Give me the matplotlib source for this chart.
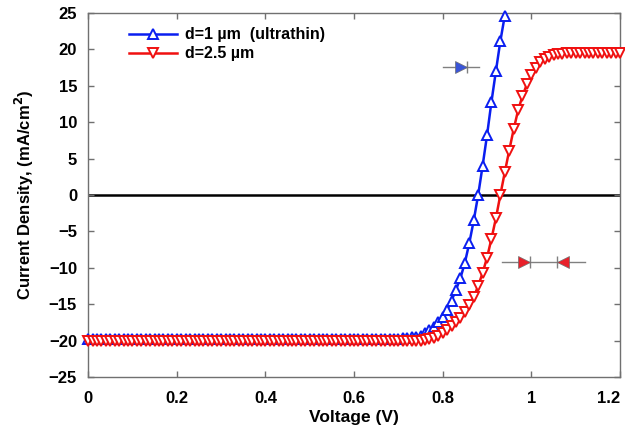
import numpy as np
import matplotlib.pyplot as plt

plt.rcParams['font.family'] = ['Liberation Sans', 'DejaVu Sans']
plt.rcParams['font.weight'] = 'bold'

# J-V curves, 10 mV step
v_thin = np.round(np.arange(0, 95) * 0.01, 2)
j_thin = [-19.8] * 70 + [
    -19.75, -19.7, -19.65, -19.55, -19.45, -19.3, -19.0, -18.6, -18.1, -17.4,
    -16.7, -15.8, -14.5, -13.0, -11.4, -9.3, -6.6, -3.5, 0.0, 4.0,
    8.2, 12.8, 17.0, 21.1, 24.6,
]

v_thick = np.round(np.arange(0, 121) * 0.01, 2)
j_thick = [-20.1] * 75 + [
    -20.0, -19.9, -19.8, -19.6, -19.3, -18.9, -18.5, -18.0, -17.5, -16.9,
    -16.1, -15.1, -14.0, -12.5, -10.7, -8.6, -6.0, -3.2, 0.0, 3.1,
    6.1, 9.0, 11.6, 13.6, 15.2, 16.5, 17.5, 18.2, 18.7, 19.0,
    19.2, 19.3, 19.4, 19.45,
] + [19.5] * 12

# diode-like markers: (line start, line end, triangle x, bar x, y)
blue_mark = (0.80, 0.883, 0.842, 0.855, 17.6)
red_mark_line = (0.934, 1.12, -9.2)
red_tri = [(0.983, '>'), (1.072, '<')]
red_bar = [0.996, 1.057]

fig = plt.figure(figsize=(6.25, 4.29), dpi=100)
ax = fig.add_axes([0.141, 0.121, 0.851, 0.849])

ax.axhline(0, color='black', lw=1.8, zorder=1)

ax.plot(v_thin, j_thin, '-^', color='#0a1ef0', lw=1.8, ms=6.5, mew=1.4,
        mfc='white', label='d=1 µm  (ultrathin)', zorder=3, clip_on=False)
ax.plot(v_thick, j_thick, '-v', color='#f01010', lw=1.8, ms=6.5, mew=1.4,
        mfc='white', label='d=2.5 µm', zorder=4, clip_on=False)

# blue marker
x0, x1, xt, xb, yb = blue_mark
ax.plot([x0, x1], [yb, yb], color='#808080', lw=1, zorder=2)
ax.plot([xb], [yb], marker='|', color='#808080', ms=9, mew=1, zorder=2)
ax.plot([xt], [yb], marker='>', color='#3a55d8', mec='#707070', mew=0.5,
        ms=8, zorder=2)

# red markers
x0, x1, yr = red_mark_line
ax.plot([x0, x1], [yr, yr], color='#808080', lw=1, zorder=2)
for xb in red_bar:
    ax.plot([xb], [yr], marker='|', color='#808080', ms=9, mew=1, zorder=2)
for xt, m in red_tri:
    ax.plot([xt], [yr], marker=m, color='#e8202a', mec='#707070', mew=0.5,
            ms=8, zorder=2)

ax.set_xlim(0, 1.2)
ax.set_ylim(-25, 25)
ax.set_xticks([0, 0.2, 0.4, 0.6, 0.8, 1.0, 1.2])
ax.set_xticklabels(['0', '0.2', '0.4', '0.6', '0.8', '1', '1.2'])
ax.set_yticks(np.arange(-25, 26, 5))
ax.set_yticklabels([str(t).replace('-', '\u2212') for t in range(-25, 26, 5)])

for s in ax.spines.values():
    s.set_color('#707070')
    s.set_linewidth(1)
ax.tick_params(direction='in', length=4, width=1, color='#707070',
               top=True, right=True, labelsize=12, pad=8)
ax.tick_params(axis='x', pad=10)
for lab in ax.get_xticklabels() + ax.get_yticklabels():
    lab.set_fontweight('bold')
# keep the last x label inside the figure
ax.get_xticklabels()[-1].set_horizontalalignment('right')

ax.set_xlabel('Voltage (V)', fontsize=12.5, fontweight='bold', labelpad=3)
ax.set_ylabel('Current Density, (mA/cm$^\\mathbf{2}$)', fontsize=12,
              fontweight='bold', labelpad=9)

leg = ax.legend(loc='upper left', bbox_to_anchor=(0.05, 1.0), frameon=False,
                handlelength=3.0, handletextpad=0.5, labelspacing=0.25,
                prop={'weight': 'bold', 'size': 11.5})

fig.savefig('out.png', dpi=100)
